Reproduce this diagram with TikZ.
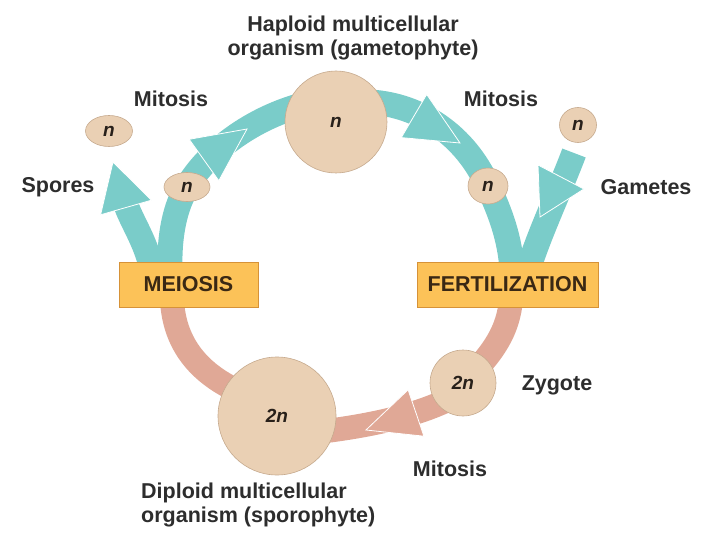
\documentclass[tikz,border=0pt]{standalone}
\usepackage{fontspec}
\setmainfont{Liberation Sans}
\usetikzlibrary{shapes.geometric}
\begin{document}
\begin{tikzpicture}[x=1pt,y=-1pt,
  tealband/.style={draw={rgb,255:red,122;green,204;blue,201},line width=25pt},
  pinkband/.style={draw={rgb,255:red,224;green,168;blue,150},line width=24pt},
  tealhead/.style={fill={rgb,255:red,122;green,204;blue,201},draw=white,line width=0.8pt,line join=miter},
  pinkhead/.style={fill={rgb,255:red,224;green,168;blue,150},draw=white,line width=0.8pt,line join=miter},
  cell/.style={circle,inner sep=0pt,fill={rgb,255:red,234;green,208;blue,180},draw={rgb,255:red,198;green,170;blue,142},line width=0.6pt,text={rgb,255:red,40;green,32;blue,26},font=\bfseries\itshape\fontsize{19}{22}\selectfont},
  spore/.style={cell,ellipse},
  stage/.style={rectangle,inner sep=0pt,fill={rgb,255:red,252;green,194;blue,88},draw={rgb,255:red,214;green,146;blue,56},line width=1pt,minimum height=45pt,text={rgb,255:red,58;green,40;blue,20},font=\bfseries\fontsize{21.5}{24}\selectfont},
  lbl/.style={inner sep=0pt,text={rgb,255:red,45;green,45;blue,45},font=\bfseries\fontsize{21.5}{24}\selectfont}]
\path[use as bounding box] (0,0) rectangle (720,540);
% anchor points of the cycle
\coordinate (gamC) at (336,122);
\coordinate (sporC) at (277,416);
\coordinate (zygC) at (463,383);
\coordinate (leftN) at (187,187);
\coordinate (rightN) at (488,186);
\coordinate (meioTop) at (170,270);
\coordinate (meioBot) at (172,300);
\coordinate (fertTop) at (512,270);
\coordinate (fertBot) at (511,300);
% haploid half
\draw[tealband] (meioTop) .. controls (169,235) and (175,207) .. (leftN) .. controls (205,155) and (250,117) .. (310,103);
\draw[tealband] (370,102) .. controls (420,105) and (465,135) .. (rightN) .. controls (500,212) and (510,238) .. (fertTop);
\draw[tealband] (152,270) .. controls (146,242) and (133,224) .. (126,205);
\draw[tealband] (574,153) .. controls (560,190) and (540,232) .. (528,270);
\path[tealhead] (100.6,214.8) -- (113,162) -- (151.4,200.2) -- cycle;
\path[tealhead] (189.2,139.3) -- (247,129) -- (218.8,180.7) -- cycle;
\path[tealhead] (426.7,94.4) -- (460,143) -- (401.3,137.6) -- cycle;
\path[tealhead] (538,165) -- (540,217) -- (583.9,189) -- cycle;
% diploid half
\draw[pinkband] (meioBot) .. controls (174,340) and (195,372) .. (240,392);
\draw[pinkband] (fertBot) .. controls (508,330) and (495,352) .. (zygC);
\draw[pinkband] (463,392) .. controls (440,405) and (400,424) .. (300,434);
\path[pinkhead] (408.1,389.8) -- (366,430) -- (423.9,436.2) -- cycle;
% cells and stages
\node[cell,minimum size=102pt] (gam) at (gamC) {n};
\node[cell,minimum size=118pt] (spor) at (sporC) {2n};
\node[cell,minimum size=66pt] (zyg) at (zygC) {2n};
\node[spore,minimum width=47pt,minimum height=31pt] (sporeA) at (109,131) {n};
\node[spore,minimum width=46pt,minimum height=29pt] (sporeB) at (leftN) {n};
\node[spore,minimum width=40pt,minimum height=36pt] (gameteA) at (rightN) {n};
\node[spore,minimum width=37pt,minimum height=35pt] (gameteB) at (578,125) {n};
\node[stage,minimum width=139pt] (meio) at (188.5,284.5) {MEIOSIS};
\node[stage,minimum width=181pt] (fert) at (507.5,284.5) {FERTILIZATION};
% labels
\node[lbl,align=center] (hapl) at (353,38) {Haploid multicellular\\organism (gametophyte)};
\node[lbl] (mitL) at (171,99) {Mitosis};
\node[lbl] (mitR) at (501,99) {Mitosis};
\node[lbl] (spoL) at (58,187) {Spores};
\node[lbl] (gamL) at (646,187) {Gametes};
\node[lbl] (zygL) at (557,385) {Zygote};
\node[lbl] (mitB) at (450,469) {Mitosis};
\node[lbl,align=left,anchor=west] (dipl) at (141,505) {Diploid multicellular\\organism (sporophyte)};
\end{tikzpicture}
\end{document}
